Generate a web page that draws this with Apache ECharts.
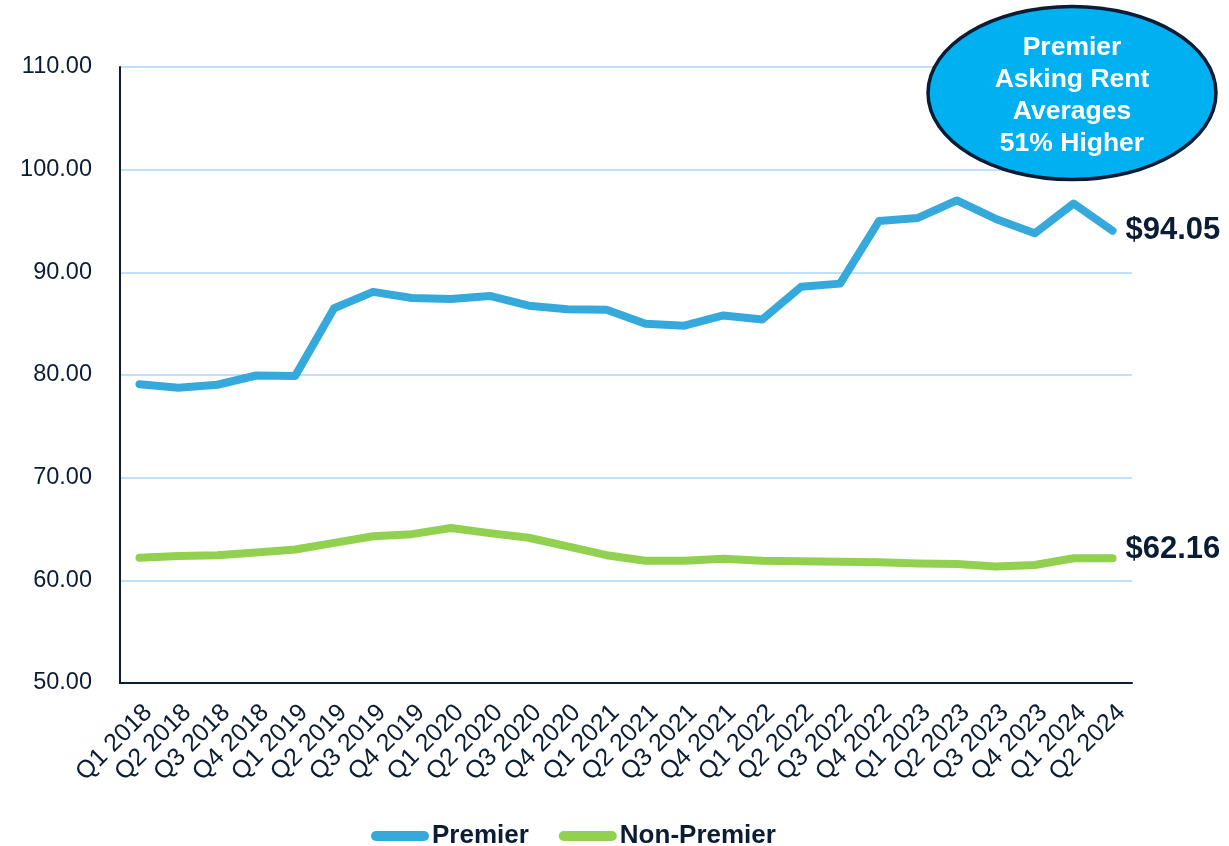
<!DOCTYPE html>
<html>
<head>
<meta charset="utf-8">
<script src="https://cdn.jsdelivr.net/npm/echarts@6/dist/echarts.min.js"></script>
<style>
html,body{margin:0;padding:0;background:#fff;}
#chart{width:1229px;height:846px;}
</style>
</head>
<body>
<div id="chart"></div>
<script>
const categories = ['Q1 2018','Q2 2018','Q3 2018','Q4 2018','Q1 2019','Q2 2019','Q3 2019','Q4 2019',
  'Q1 2020','Q2 2020','Q3 2020','Q4 2020','Q1 2021','Q2 2021','Q3 2021','Q4 2021',
  'Q1 2022','Q2 2022','Q3 2022','Q4 2022','Q1 2023','Q2 2023','Q3 2023','Q4 2023','Q1 2024','Q2 2024'];
const premier = [79.1, 78.75, 79.05, 79.95, 79.9, 86.5, 88.1, 87.5, 87.4, 87.7, 86.75, 86.4, 86.35,
  85.0, 84.8, 85.8, 85.4, 88.6, 88.9, 95.0, 95.3, 97.0, 95.2, 93.8, 96.7, 94.05];
const nonPremier = [62.2, 62.37, 62.45, 62.7, 63.0, 63.65, 64.3, 64.5, 65.1, 64.6, 64.15, 63.3, 62.45,
  61.9, 61.9, 62.1, 61.9, 61.85, 61.8, 61.75, 61.65, 61.6, 61.35, 61.5, 62.15, 62.16];
const seriesNames = ['Premier', 'Non-Premier'];
const calloutText = ['Premier', 'Asking Rent', 'Averages', '51% Higher'];

const navy = '#0B1D34';
const font = '"Liberation Sans", Arial, sans-serif';
const chart = echarts.init(document.getElementById('chart'), null, {renderer: 'canvas'});
const legendIcon = 'path://M5,0H53A5,5,0,0,1,53,10H5A5,5,0,0,1,5,0Z';

chart.setOption({
  animation: false,
  textStyle: {fontFamily: font, color: navy},
  grid: {left: 120, right: 97, top: 67, bottom: 163, containLabel: false},
  legend: {
    data: seriesNames,
    left: 366, top: 818,
    icon: legendIcon,
    itemWidth: 58, itemHeight: 10, itemGap: 30,
    textStyle: {fontFamily: font, fontSize: 26, fontWeight: 'bold', color: navy, padding: [0,0,0,-2]}
  },
  xAxis: {
    type: 'category',
    data: categories,
    boundaryGap: true,
    axisLine: {lineStyle: {color: navy, width: 2}},
    axisTick: {show: false},
    axisLabel: {rotate: 45, interval: 0, margin: 17, fontSize: 25, color: navy,
      fontFamily: font, verticalAlign: 'top'}
  },
  yAxis: {
    type: 'value', min: 50, max: 110, interval: 10,
    axisLine: {show: true, lineStyle: {color: navy, width: 2}},
    axisTick: {show: false},
    splitLine: {lineStyle: {color: '#BEE0F8', width: 2}},
    axisLabel: {margin: 28, fontSize: 23.5, color: navy, fontFamily: font,
      formatter: v => v.toFixed(2)}
  },
  series: [
    {
      name: seriesNames[0], type: 'line', data: premier,
      showSymbol: false, symbol: 'none',
      lineStyle: {color: '#35A9DC', width: 8, cap: 'round', join: 'round'},
      itemStyle: {color: '#35A9DC'},
      endLabel: {show: true, distance: 13, fontSize: 31, fontWeight: 'bold', color: navy,
        fontFamily: font, formatter: p => '$' + Number(p.value).toFixed(2)},
      z: 3
    },
    {
      name: seriesNames[1], type: 'line', data: nonPremier,
      showSymbol: false, symbol: 'none',
      lineStyle: {color: '#92D050', width: 8, cap: 'round', join: 'round'},
      itemStyle: {color: '#92D050'},
      endLabel: {show: true, distance: 13, offset: [0, -9], fontSize: 31, fontWeight: 'bold', color: navy,
        fontFamily: font, formatter: p => '$' + Number(p.value).toFixed(2)},
      z: 3
    }
  ],
  graphic: [
    {
      type: 'ellipse', z: 100,
      shape: {cx: 1072, cy: 93, rx: 144, ry: 86.5},
      style: {fill: '#00B0F0', stroke: '#0B1D34', lineWidth: 3.5}
    },
    {
      type: 'text', z: 101,
      x: 1072, y: 96,
      style: {text: calloutText.join('\n'), fill: '#ffffff', font: 'bold 26.5px ' + font,
        align: 'center', verticalAlign: 'middle', lineHeight: 32}
    }
  ]
});
</script>
</body>
</html>
